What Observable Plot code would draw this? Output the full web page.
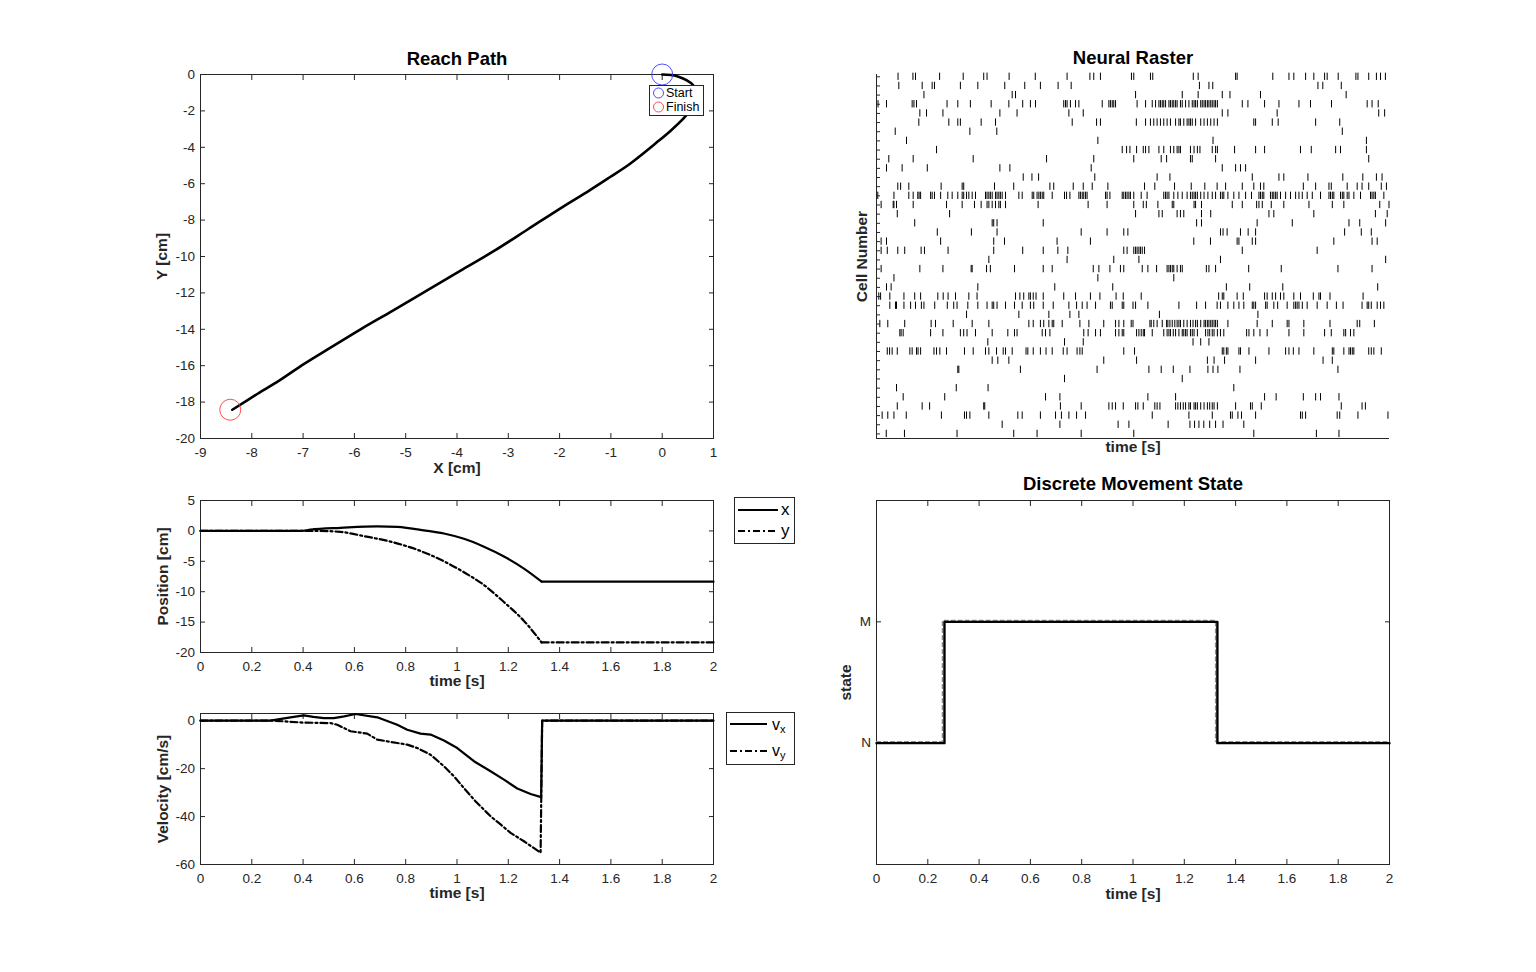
<!DOCTYPE html>
<html>
<head>
<meta charset="utf-8">
<script src="https://cdn.jsdelivr.net/npm/d3@7"></script>
<script src="https://cdn.jsdelivr.net/npm/@observablehq/plot@0.6"></script>
<style>
  html, body { margin: 0; padding: 0; background: #fff; }
  body { width: 1536px; height: 972px; overflow: hidden; font-family: "Liberation Sans", Arial, Helvetica, sans-serif; }
  #root { position: relative; width: 1536px; height: 972px; }
  .legend { position: absolute; background: #fff; }
</style>
</head>
<body>
<div id="root"></div>
<script>
// ---------------- DATA ----------------
// Reach path (X, Y in cm)
const reachX = [0, 0.29, 0.60, 0.66, 0.58, 0.43, 0.16, -0.11, -0.64, -1.03, -1.43, -1.96, -2.61, -3.27, -3.93, -4.59, -5.25, -5.88, -6.45, -6.98, -7.46, -7.93, -8.38];
const reachY = [0, -0.09, -0.58, -1.20, -1.85, -2.37, -3.10, -3.74, -4.93, -5.66, -6.39, -7.31, -8.49, -9.68, -10.78, -11.87, -12.97, -14.00, -14.98, -15.90, -16.81, -17.62, -18.42];
const startPoint = {x: 0, y: 0};
const finishPoint = {x: -8.42, y: -18.42};

// Position vs time (movement ends at 1.33 s, then flat)
const posXT = [0, 0.39, 0.429, 0.546, 0.689, 0.767, 0.871, 0.949, 1.027, 1.105, 1.183, 1.261, 1.33, 2.0];
const posXV = [0, 0, 0.2, 0.5, 0.75, 0.65, 0.1, -0.43, -1.3, -2.6, -4.2, -6.2, -8.35, -8.35];
const posYT = [0, 0.455, 0.546, 0.637, 0.741, 0.845, 0.949, 1.027, 1.105, 1.183, 1.261, 1.33, 2.0];
const posYV = [0, 0, -0.16, -0.86, -1.77, -3.1, -5.0, -6.8, -8.9, -11.7, -14.8, -18.35, -18.35];
const moveEnd = 1.33;

// Velocity vs time
const velXT = [0, 0.273, 0.351, 0.403, 0.44, 0.481, 0.52, 0.56, 0.604, 0.689, 0.767, 0.806, 0.858, 0.897, 0.949, 1.001, 1.066, 1.131, 1.183, 1.235, 1.287, 1.328, 1.332, 2.0];
const velXV = [0, 0, 1.4, 2.2, 1.6, 1.1, 1.1, 1.8, 2.8, 1.4, -1.7, -3.8, -5.4, -5.8, -8.3, -11.4, -16.9, -21.1, -24.6, -28.3, -30.6, -31.9, 0, 0];
const velYT = [0, 0.286, 0.40, 0.507, 0.533, 0.585, 0.65, 0.689, 0.767, 0.806, 0.845, 0.897, 0.949, 0.988, 1.027, 1.072, 1.131, 1.17, 1.209, 1.261, 1.326, 1.332, 2.0];
const velYV = [0, 0, -0.8, -1.0, -1.7, -4.4, -5.4, -7.9, -9.3, -10.0, -11.4, -14.2, -19.0, -23.2, -28.1, -33.6, -39.9, -43.3, -46.8, -50.3, -55.1, 0, 0];

// Discrete movement state (1 = N, 2 = M), step-after
const stateT = [0, 0.265, 1.329, 2.0];
const stateV = [1, 2, 1, 1];
const trueStateT = [0, 0.257, 1.322, 2.0];
const trueStateV = [1, 2, 1, 1];
const stateLabels = ["N", "M"];

// Tick values
const reachXTicks = [-9, -8, -7, -6, -5, -4, -3, -2, -1, 0, 1];
const reachYTicks = [-20, -18, -16, -14, -12, -10, -8, -6, -4, -2, 0];
const timeTicks = [0, 0.2, 0.4, 0.6, 0.8, 1, 1.2, 1.4, 1.6, 1.8, 2];
const posYTicks = [-20, -15, -10, -5, 0, 5];
const velYTicks = [-60, -40, -20, 0];
const stateYTicks = [1, 2];
const cellIds = [1,2,3,4,5,6,7,8,9,10,11,12,13,14,15,16,17,18,19,20,21,22,23,24,25,26,27,28,29,30,31,32,33,34,35,36,37,38,39,40];

// Neural raster: spike times (s) for each cell, top to bottom
const rasterSpikes = [
  [0.084,0.142,0.152,0.246,0.338,0.418,0.431,0.517,0.619,0.743,0.832,0.847,0.873,0.994,1.003,1.068,1.077,1.235,1.254,1.400,1.406,1.545,1.608,1.627,1.673,1.705,1.747,1.757,1.800,1.869,1.877,1.919,1.949,1.965,1.984],
  [0.087,0.178,0.217,0.226,0.327,0.395,0.500,0.578,0.639,0.708,0.759,1.259,1.296,1.311,1.721,1.740,1.812],
  [0.185,0.529,0.542,1.010,1.192,1.254,1.348,1.378,1.497,1.831],
  [0.006,0.039,0.139,0.146,0.156,0.275,0.317,0.366,0.447,0.516,0.570,0.600,0.620,0.730,0.737,0.743,0.756,0.776,0.789,0.880,0.906,0.912,0.919,0.925,0.932,1.016,1.049,1.075,1.088,1.101,1.107,1.114,1.120,1.127,1.140,1.146,1.153,1.159,1.166,1.172,1.185,1.192,1.205,1.218,1.231,1.238,1.244,1.251,1.264,1.270,1.277,1.283,1.290,1.296,1.303,1.309,1.316,1.322,1.329,1.426,1.448,1.513,1.569,1.647,1.692,1.774,1.913,1.932,1.956],
  [0.169,0.195,0.259,0.481,0.548,0.750,0.806,1.348,1.370,1.562,1.958,1.981],
  [0.165,0.282,0.317,0.327,0.408,0.464,0.763,0.858,0.873,1.013,1.049,1.068,1.081,1.094,1.107,1.120,1.133,1.146,1.166,1.179,1.185,1.198,1.211,1.218,1.224,1.231,1.244,1.264,1.277,1.290,1.303,1.316,1.329,1.471,1.478,1.543,1.566,1.712,1.806],
  [0.073,0.364,0.469,1.816],
  [0.117,0.863,1.312,1.910],
  [0.234,0.958,0.975,0.988,1.014,1.040,1.049,1.062,1.101,1.120,1.146,1.159,1.172,1.179,1.185,1.224,1.238,1.251,1.261,1.309,1.322,1.329,1.396,1.478,1.513,1.653,1.695,1.790,1.809,1.910],
  [0.048,0.143,0.377,0.663,0.847,1.003,1.110,1.131,1.224,1.231,1.322,1.919],
  [0.039,0.100,0.198,0.481,0.520,0.837,1.348,1.400,1.419,1.439],
  [0.572,0.606,0.632,0.851,1.094,1.144,1.465,1.569,1.588,1.682,1.818,1.896,1.949,1.971],
  [0.083,0.094,0.126,0.252,0.334,0.340,0.460,0.535,0.676,0.691,0.767,0.806,0.841,0.902,1.045,1.085,1.162,1.227,1.280,1.328,1.361,1.426,1.471,1.497,1.510,1.664,1.712,1.764,1.773,1.835,1.874,1.893,1.919,1.968,1.988],
  [0.005,0.068,0.126,0.143,0.161,0.166,0.172,0.211,0.217,0.226,0.250,0.278,0.295,0.317,0.334,0.340,0.351,0.360,0.373,0.386,0.425,0.431,0.438,0.444,0.451,0.464,0.470,0.477,0.483,0.490,0.503,0.555,0.568,0.607,0.613,0.626,0.633,0.639,0.646,0.652,0.685,0.733,0.741,0.754,0.789,0.795,0.802,0.808,0.815,0.821,0.893,0.899,0.910,0.958,0.964,0.971,0.977,0.984,0.990,1.003,1.032,1.055,1.120,1.127,1.133,1.140,1.159,1.175,1.192,1.211,1.224,1.231,1.238,1.244,1.251,1.264,1.277,1.292,1.309,1.322,1.341,1.348,1.354,1.370,1.393,1.413,1.439,1.462,1.491,1.497,1.504,1.510,1.536,1.543,1.549,1.556,1.562,1.575,1.595,1.614,1.634,1.647,1.660,1.679,1.699,1.731,1.764,1.770,1.777,1.783,1.809,1.816,1.822,1.835,1.842,1.861,1.887,1.926,1.932,1.939,1.945,1.978],
  [0.018,0.065,0.068,0.078,0.143,0.273,0.334,0.382,0.408,0.431,0.438,0.451,0.464,0.477,0.483,0.503,0.630,0.825,0.899,1.003,1.040,1.052,1.097,1.153,1.159,1.238,1.244,1.267,1.387,1.426,1.482,1.491,1.504,1.539,1.588,1.686,1.777,1.822,1.962,1.998],
  [0.081,0.285,1.010,1.101,1.114,1.172,1.185,1.198,1.267,1.303,1.530,1.549,1.705,1.945,1.991],
  [0.149,0.451,0.457,0.470,0.650,1.248,1.267,1.484,1.621,1.842,1.884,1.985],
  [0.237,0.370,0.470,0.798,0.899,0.964,0.980,1.341,1.351,1.367,1.419,1.449,1.478,1.825,1.890,1.929],
  [0.018,0.039,0.250,0.457,0.499,0.704,0.834,1.237,1.302,1.406,1.413,1.465,1.478,1.783,1.932,1.952],
  [0.018,0.042,0.083,0.110,0.174,0.187,0.279,0.457,0.570,0.650,0.707,0.746,0.964,0.977,1.003,1.010,1.016,1.023,1.029,1.036,1.045,1.426,1.718],
  [0.438,0.743,0.925,1.023,1.341,1.985],
  [0.018,0.169,0.259,0.369,0.373,0.429,0.444,0.538,0.650,0.685,0.845,0.867,0.910,0.951,0.964,1.036,1.058,1.092,1.133,1.140,1.146,1.153,1.159,1.172,1.185,1.192,1.286,1.296,1.322,1.451,1.578,1.799,1.932],
  [0.068,0.863,1.159],
  [0.039,0.057,0.395,0.695,0.921,1.364,1.455,1.584,1.954],
  [0.009,0.016,0.052,0.107,0.149,0.172,0.239,0.260,0.279,0.308,0.360,0.392,0.542,0.559,0.574,0.594,0.600,0.611,0.622,0.650,0.730,0.776,0.834,0.871,0.934,0.962,1.032,1.334,1.348,1.354,1.406,1.430,1.513,1.523,1.543,1.556,1.575,1.588,1.627,1.653,1.703,1.725,1.731,1.768,1.897],
  [0.052,0.074,0.078,0.107,0.133,0.152,0.175,0.185,0.227,0.276,0.301,0.314,0.356,0.395,0.431,0.451,0.457,0.470,0.503,0.538,0.568,0.600,0.613,0.650,0.689,0.750,0.780,0.802,0.821,0.854,0.912,0.919,0.958,0.964,1.000,1.010,1.058,1.179,1.248,1.283,1.328,1.341,1.370,1.393,1.413,1.432,1.465,1.471,1.478,1.517,1.523,1.549,1.564,1.601,1.627,1.634,1.640,1.647,1.660,1.679,1.718,1.757,1.793,1.819,1.893,1.913,1.919,1.929,1.952,1.965,1.978],
  [0.351,0.555,0.672,0.754,0.789,1.103,1.487],
  [0.013,0.044,0.110,0.213,0.230,0.299,0.373,0.438,0.594,0.611,0.639,0.652,0.672,0.685,0.691,0.724,0.793,0.828,0.886,0.932,0.945,0.964,0.993,1.000,1.066,1.071,1.081,1.094,1.114,1.131,1.136,1.144,1.153,1.163,1.172,1.179,1.185,1.198,1.211,1.224,1.234,1.244,1.251,1.264,1.277,1.283,1.290,1.296,1.303,1.309,1.316,1.322,1.329,1.370,1.484,1.543,1.601,1.608,1.666,1.768,1.874,1.884,1.941],
  [0.091,0.096,0.104,0.211,0.259,0.327,0.340,0.353,0.386,0.451,0.512,0.538,0.548,0.646,0.659,0.676,0.808,0.825,0.854,0.873,0.932,0.945,0.958,0.964,1.014,1.023,1.032,1.040,1.045,1.075,1.120,1.133,1.140,1.146,1.157,1.166,1.179,1.192,1.198,1.205,1.211,1.224,1.231,1.238,1.251,1.283,1.292,1.299,1.309,1.316,1.329,1.341,1.354,1.443,1.452,1.471,1.495,1.523,1.608,1.666,1.747,1.773,1.822,1.829,1.848,1.861],
  [0.434,0.733,0.806,1.234,1.264,1.296],
  [0.042,0.051,0.061,0.081,0.130,0.139,0.156,0.162,0.172,0.224,0.234,0.247,0.273,0.343,0.377,0.425,0.438,0.468,0.494,0.503,0.529,0.583,0.590,0.611,0.639,0.661,0.685,0.728,0.743,0.782,0.793,0.802,0.964,1.006,1.348,1.354,1.364,1.370,1.413,1.419,1.452,1.530,1.595,1.608,1.625,1.647,1.705,1.777,1.783,1.822,1.842,1.848,1.855,1.861,1.919,1.929,1.939,1.968],
  [0.451,0.473,0.516,0.886,1.014,1.290,1.316,1.357,1.478,1.741,1.777],
  [0.317,0.321,0.561,0.860,1.062,1.110,1.157,1.222,1.292,1.312,1.331,1.417,1.799],
  [0.733,1.192],
  [0.078,0.311,0.435,1.393],
  [0.104,0.266,0.659,0.715,1.058,1.166,1.513,1.558,1.664,1.712,1.731,1.803],
  [0.081,0.178,0.207,0.418,0.422,0.717,0.798,0.906,0.919,0.932,0.962,1.010,1.019,1.040,1.085,1.094,1.105,1.166,1.175,1.185,1.196,1.205,1.218,1.224,1.238,1.244,1.251,1.264,1.277,1.290,1.299,1.309,1.316,1.329,1.400,1.458,1.465,1.500,1.812,1.893,1.906],
  [0.022,0.044,0.068,0.116,0.253,0.343,0.351,0.364,0.438,0.551,0.568,0.639,0.698,0.721,0.750,0.780,0.815,1.075,1.218,1.309,1.380,1.387,1.409,1.423,1.478,1.653,1.660,1.673,1.796,1.806,1.877,1.994],
  [0.490,0.715,0.942,0.984,1.137,1.222,1.240,1.257,1.276,1.299,1.322,1.351,1.432],
  [0.038,0.109,0.314,0.535,0.626,0.798,1.003,1.471,1.715,1.803]
];

// ---------------- BUILD ----------------
const FONT = '"Liberation Sans", Arial, Helvetica, sans-serif';
const INK = "#262626";
const root = document.getElementById("root");
const num = d => String(d);
const blank = () => "";

const zip = (t, v) => t.map((d, i) => ({t: d, v: v[i]}));
// split a position trace into the moving part and the resting part (shared corner point)
const phases = rows => [
  ...rows.filter(d => d.t <= moveEnd).map(d => ({...d, seg: "move"})),
  ...rows.filter(d => d.t >= moveEnd).map(d => ({...d, seg: "rest"}))
];
const reachData = reachX.map((d, i) => ({x: d, y: reachY[i]}));
const posX = phases(zip(posXT, posXV)), posY = phases(zip(posYT, posYV));
const velX = zip(velXT, velXV), velY = zip(velYT, velYV);
const stateData = zip(stateT, stateV), trueStateData = zip(trueStateT, trueStateV);
const spikes = rasterSpikes.flatMap((times, i) => times.map(t => ({cell: cellIds[i], t})));

function panel({ax, ml = 80, mr = 30, mt = 40, mb = 50, x, y, marks}) {
  const w = ax.r - ax.l, h = ax.b - ax.t;
  const svg = Plot.plot({
    width: w + ml + mr, height: h + mt + mb,
    marginLeft: ml, marginRight: mr, marginTop: mt, marginBottom: mb,
    x, y,
    style: {fontFamily: FONT, fontSize: "13.5px", color: INK, background: "transparent", overflow: "visible"},
    marks
  });
  svg.style.position = "absolute";
  svg.style.left = (ax.l - ml) + "px";
  svg.style.top = (ax.t - mt) + "px";
  root.appendChild(svg);
}

function boxAxes(xTicks, yTicks, xFmt = num, yFmt = num) {
  return [
    Plot.frame({stroke: INK, strokeWidth: 1}),
    Plot.axisX({anchor: "bottom", ticks: xTicks, tickSize: -5, tickPadding: 14, tickFormat: xFmt, label: null}),
    Plot.axisX({anchor: "top", ticks: xTicks, tickSize: -5, tickFormat: blank, label: null}),
    Plot.axisY({anchor: "left", ticks: yTicks, tickSize: -5, tickPadding: 10.5, tickFormat: yFmt, label: null}),
    Plot.axisY({anchor: "right", ticks: yTicks, tickSize: -5, tickFormat: blank, label: null})
  ];
}

const title = (s, dy) => Plot.text([s], {text: d => d, frameAnchor: "top", lineAnchor: "middle", textAnchor: "middle", dy, fontWeight: "bold", fontSize: 18.5, fill: "#000"});
const xlab = (s, dy) => Plot.text([s], {text: d => d, frameAnchor: "bottom", lineAnchor: "middle", textAnchor: "middle", dy, fontWeight: "bold", fontSize: 15.5, fill: INK});
const ylab = (s, dx) => Plot.text([s], {text: d => d, frameAnchor: "left", lineAnchor: "middle", textAnchor: "middle", dx, rotate: -90, fontWeight: "bold", fontSize: 15.5, fill: INK});

// Reach Path
panel({
  ax: {l: 200, r: 713, t: 74, b: 438},
  x: {domain: [-9, 1]}, y: {domain: [-20, 0]},
  marks: [
    ...boxAxes(reachXTicks, reachYTicks),
    Plot.line(reachData, {x: "x", y: "y", stroke: "#000", strokeWidth: 2.6, curve: "catmull-rom"}),
    Plot.dot([startPoint], {x: "x", y: "y", r: 10.5, stroke: "#3a3aff", strokeWidth: 0.9, fill: "none"}),
    Plot.dot([finishPoint], {x: "x", y: "y", r: 10.5, stroke: "#ff3a3a", strokeWidth: 0.9, fill: "none"}),
    title("Reach Path", -15),
    xlab("X [cm]", 30),
    ylab("Y [cm]", -38)
  ]
});

// Position
panel({
  ax: {l: 200, r: 713, t: 500, b: 652},
  x: {domain: [0, 2]}, y: {domain: [-20, 5]},
  marks: [
    ...boxAxes(timeTicks, posYTicks),
    Plot.line(posX, {x: "t", y: "v", z: "seg", stroke: "#000", strokeWidth: 2.2, curve: "monotone-x"}),
    Plot.line(posY, {x: "t", y: "v", z: "seg", stroke: "#000", strokeWidth: 2.2, curve: "monotone-x", strokeDasharray: "7,3,2,3"}),
    xlab("time [s]", 29),
    ylab("Position [cm]", -37)
  ]
});

// Velocity
panel({
  ax: {l: 200, r: 713, t: 713, b: 864},
  x: {domain: [0, 2]}, y: {domain: [-60, 3]},
  marks: [
    ...boxAxes(timeTicks, velYTicks),
    Plot.line(velY, {x: "t", y: "v", stroke: "#000", strokeWidth: 2.2, strokeDasharray: "7,3,2,3"}),
    Plot.line(velX, {x: "t", y: "v", stroke: "#000", strokeWidth: 2.2}),
    xlab("time [s]", 29),
    ylab("Velocity [cm/s]", -37)
  ]
});

// Neural Raster
panel({
  ax: {l: 876, r: 1389, t: 74, b: 438},
  x: {domain: [0, 2], axis: null}, y: {domain: [0.75, 40.5], reverse: true},
  marks: [
    Plot.ruleX(spikes, {x: "t", y1: d => d.cell - 0.4, y2: d => d.cell + 0.4, stroke: "#000", strokeWidth: 1}),
    Plot.axisY({anchor: "left", ticks: cellIds, tickSize: -4, tickFormat: blank, label: null}),
    Plot.ruleX([0], {stroke: INK, strokeWidth: 1}),
    Plot.ruleY([40.5], {stroke: INK, strokeWidth: 1}),
    title("Neural Raster", -16),
    xlab("time [s]", 9),
    ylab("Cell Number", -14)
  ]
});

// Discrete Movement State
panel({
  ax: {l: 876, r: 1389, t: 500, b: 864},
  x: {domain: [0, 2]}, y: {domain: [0, 3]},
  marks: [
    ...boxAxes(timeTicks, stateYTicks, num, d => stateLabels[d - 1]),
    Plot.line(trueStateData, {x: "t", y: "v", stroke: "#8c8c8c", strokeWidth: 1.4, curve: "step-after", strokeDasharray: "4,3", dy: -1.5}),
    Plot.line(stateData, {x: "t", y: "v", stroke: "#000", strokeWidth: 2.4, curve: "step-after"}),
    title("Discrete Movement State", -16),
    xlab("time [s]", 30),
    ylab("state", -30)
  ]
});

// ---------------- LEGENDS ----------------
function legend(left, top, w, h, body) {
  const div = document.createElement("div");
  div.className = "legend";
  div.style.left = left + "px";
  div.style.top = top + "px";
  div.innerHTML = `<svg width="${w}" height="${h}" style="display:block;font-family:${FONT.replace(/"/g, "'")}">
    <rect x="0.5" y="0.5" width="${w - 1}" height="${h - 1}" fill="#fff" stroke="${INK}" stroke-width="1"/>${body}</svg>`;
  root.appendChild(div);
}

legend(649, 85, 55, 31, `
  <circle cx="9.5" cy="8" r="5" fill="none" stroke="#3a3aff" stroke-width="0.9"/>
  <text x="17" y="8" dominant-baseline="central" font-size="12.5" fill="#000">Start</text>
  <circle cx="9.5" cy="22" r="5" fill="none" stroke="#ff3a3a" stroke-width="0.9"/>
  <text x="17" y="22" dominant-baseline="central" font-size="12.5" fill="#000">Finish</text>`);

legend(734, 497, 61, 47, `
  <line x1="4" x2="44" y1="13" y2="13" stroke="#000" stroke-width="2.2"/>
  <text x="47" y="12.5" dominant-baseline="central" font-size="17" fill="#000">x</text>
  <line x1="4" x2="44" y1="34" y2="34" stroke="#000" stroke-width="2.2" stroke-dasharray="7,3,2,3"/>
  <text x="47" y="33" dominant-baseline="central" font-size="17" fill="#000">y</text>`);

legend(726, 712, 69, 53, `
  <line x1="4" x2="41" y1="12" y2="12" stroke="#000" stroke-width="2.2"/>
  <text x="46" y="12" dominant-baseline="central" font-size="16" fill="#000">v<tspan font-size="11" dy="5">x</tspan></text>
  <line x1="4" x2="41" y1="39" y2="39" stroke="#000" stroke-width="2.2" stroke-dasharray="7,3,2,3"/>
  <text x="46" y="38" dominant-baseline="central" font-size="16" fill="#000">v<tspan font-size="11" dy="5">y</tspan></text>`);
</script>
</body>
</html>
